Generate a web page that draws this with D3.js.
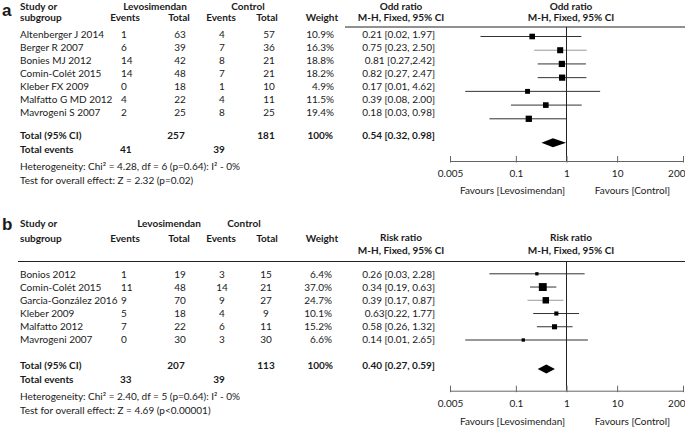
<!DOCTYPE html>
<html><head><meta charset="utf-8">
<script src="https://cdn.jsdelivr.net/npm/d3@7"></script>
<style>
body{margin:0;background:#fff}
svg text{font-family:Lato,"Open Sans",sans-serif;fill:#1a1a1a;font-size:10px}
</style>
</head><body><svg id="c" width="685" height="428"></svg>
<script>
// ---------- Panel a data ----------
const studiesA = ["Altenberger J 2014","Berger R 2007","Bonies MJ 2012","Comin-Colét 2015","Kleber FX 2009","Malfatto G MD 2012","Mavrogeni S 2007"];
const levoEventsA = [1,6,14,14,0,4,2];
const levoTotalA = [63,39,42,48,18,22,25];
const ctrlEventsA = [4,7,8,7,1,4,8];
const ctrlTotalA = [57,36,21,21,10,11,25];
const weightA = [10.9,16.3,18.8,18.2,4.9,11.5,19.4];
const estA = [0.21,0.75,0.81,0.82,0.17,0.39,0.18];
const lowA = [0.02,0.23,0.27,0.27,0.01,0.08,0.03];
const highA = [1.97,2.50,2.42,2.47,4.62,2.00,0.98];
const ciTextA = ["0.21 [0.02, 1.97]","0.75 [0.23, 2.50]","0.81 [0.27,2.42]","0.82 [0.27, 2.47]","0.17 [0.01, 4.62]","0.39 [0.08, 2.00]","0.18 [0.03, 0.98]"];
const totalsA = {levoTotal:"257", ctrlTotal:"181", weight:"100%", levoEvents:"41", ctrlEvents:"39"};
const overallA = [0.54, 0.32, 0.98];
const overallTextA = "0.54 [0.32, 0.98]";
const hetA = ["Heterogeneity: Chi² = 4.28, df = 6 (p=0.64): I² - 0%","Test for overall effect: Z = 2.32 (p=0.02)"];

// ---------- Panel b data ----------
const studiesB = ["Bonios 2012","Comin-Colét 2015","Garcia-González 2016","Kleber 2009","Malfatto 2012","Mavrogeni 2007"];
const levoEventsB = [1,11,9,5,7,0];
const levoTotalB = [19,48,70,18,22,30];
const ctrlEventsB = [3,14,9,4,6,3];
const ctrlTotalB = [15,21,27,9,11,30];
const weightB = [6.4,37.0,24.7,10.1,15.2,6.6];
const estB = [0.26,0.34,0.39,0.63,0.58,0.14];
const lowB = [0.03,0.19,0.17,0.22,0.26,0.01];
const highB = [2.28,0.63,0.87,1.77,1.32,2.65];
const ciTextB = ["0.26 [0.03, 2.28]","0.34 [0.19, 0.63]","0.39 [0.17, 0.87]","0.63[0.22, 1.77]","0.58 [0.26, 1.32]","0.14 [0.01, 2.65]"];
const totalsB = {levoTotal:"207", ctrlTotal:"113", weight:"100%", levoEvents:"33", ctrlEvents:"39"};
const overallB = [0.40, 0.27, 0.59];
const overallTextB = "0.40 [0.27, 0.59]";
const hetB = ["Heterogeneity: Chi² = 2.40, df = 5 (p=0.64): I² - 0%","Test for overall effect: Z = 4.69 (p<0.00001)"];

// ---------- Axis ----------
const tickValues = [0.005,0.1,1,10,200];
const tickLabels = ["0.005","0.1","1","10","200"];
const favourLabels = ["Favours [Levosimendan]","Favours [Control]"];

// style: rows whose CI line is drawn in grey
const greyRows = ["Berger R 2007","Garcia-González 2016"];

const svg = d3.select("#c");
const x = d3.scaleLog().domain([0.005,200]).range([450,683]);

function drawPanel(p){
  const g = svg.append("g");
  const n = p.studies.length;
  const t = (xx,y,s,opt={})=>{
    const el = g.append("text").attr("x",xx).attr("y",y).attr("dy","0.35em").text(s)
      .attr("text-anchor",opt.anchor||"start");
    if(opt.bold) el.attr("font-weight","bold");
    return el;
  };
  // panel label
  g.append("text").attr("x",2).attr("y",p.labelY).text(p.label)
    .style("font-family","'Liberation Sans',Arial,sans-serif").style("font-size","17px").attr("font-weight","bold");
  // headers
  t(20,p.hdr1,"Study or",{bold:true});
  t(20,p.hdr2,"subgroup",{bold:true});
  t(p.levoHdrX,p.hdr1,"Levosimendan",{bold:true,anchor:"middle"});
  t(p.ctrlHdrX,p.hdr1,"Control",{bold:true,anchor:"middle"});
  t(125,p.hdr2,"Events",{bold:true,anchor:"middle"});
  t(179,p.hdr2,"Total",{bold:true,anchor:"middle"});
  t(221,p.hdr2,"Events",{anchor:"middle"}).attr("font-weight","bold");
  t(267,p.hdr2,"Total",{bold:true,anchor:"middle"});
  t(322,p.hdr2,"Weight",{bold:true,anchor:"middle"});
  t(401,p.rhdr1,p.measure,{bold:true,anchor:"middle"});
  t(401,p.rhdr2,"M-H, Fixed, 95% CI",{bold:true,anchor:"middle"});
  t(571,p.rhdr1,p.measure,{bold:true,anchor:"middle"});
  t(571,p.rhdr2,"M-H, Fixed, 95% CI",{bold:true,anchor:"middle"});
  g.append("line").attr("x1",p.ruleX0).attr("x2",685).attr("y1",p.ruleY).attr("y2",p.ruleY)
    .attr("stroke","#222").attr("stroke-width",1);

  const yText = d3.scaleLinear().domain([0,n-1]).range(p.textRange);
  const yMark = d3.scaleLinear().domain([0,n-1]).range(p.markRange);
  const size = d3.scaleSqrt().domain([0,40]).range([p.sizeMin,p.sizeMax]);

  p.studies.forEach((s,i)=>{
    const y = yText(i);
    t(20,y,s);
    t(121,y,String(p.levoEvents[i]));
    t(180,y,String(p.levoTotal[i]),{anchor:"middle"});
    t(p.ctrlEvX,y,String(p.ctrlEvents[i]),{anchor:"middle"});
    t(p.ctrlTotX,y,String(p.ctrlTotal[i]),{anchor:"middle"});
    t(p.weightX,y,p.weight[i].toFixed(1)+"%",{anchor:"end"});
    t(435,y,p.ciText[i],{anchor:"end"});
  });
  // CI lines + squares
  p.studies.forEach((s,i)=>{
    const ym = yMark(i);
    g.append("line").attr("x1",x(p.low[i])).attr("x2",x(p.high[i])).attr("y1",ym).attr("y2",ym)
      .attr("stroke",greyRows.includes(s)?"#9a9a9a":"#333").attr("stroke-width",1);
  });
  p.studies.forEach((s,i)=>{
    const ym = yMark(i), sz = size(p.weight[i]);
    g.append("rect").attr("x",x(p.est[i])-sz/2).attr("y",ym-sz/2).attr("width",sz).attr("height",sz).attr("fill","#000");
  });
  // totals
  t(20,p.totalY,"Total (95% CI)",{bold:true});
  t(176,p.totalY,p.totals.levoTotal,{bold:true,anchor:"middle"});
  t(266,p.totalY,p.totals.ctrlTotal,{bold:true,anchor:"middle"});
  t(333,p.totalY,p.totals.weight,{bold:true,anchor:"end"});
  t(435,p.totalY,p.overallText,{bold:true,anchor:"end"});
  t(20,p.eventsY,"Total events",{bold:true});
  t(120,p.eventsY,p.totals.levoEvents,{bold:true});
  t(219,p.eventsY,p.totals.ctrlEvents,{bold:true,anchor:"middle"});
  t(20,p.het1,p.het[0]);
  t(20,p.het2,p.het[1]);

  // vertical line at 1
  g.append("line").attr("x1",x(1)).attr("x2",x(1)).attr("y1",p.ruleY).attr("y2",p.axisY)
    .attr("stroke","#222").attr("stroke-width",1);
  // diamond
  const [e,lo,hi] = p.overall, dy = p.diamondY, h = 4.5;
  g.append("polygon").attr("points",[[x(lo),dy],[x(e),dy-h],[x(hi),dy],[x(e),dy+h]].map(d=>d.join(",")).join(" "))
    .attr("fill","#000");
  // axis
  const ax = g.append("g").attr("transform",`translate(0,${p.axisY})`)
    .call(d3.axisBottom(x).tickValues(tickValues).tickFormat((d,i)=>tickLabels[i]).tickSizeInner(-5).tickSizeOuter(0).tickPadding(9));
  ax.select(".domain").attr("stroke","#666");
  ax.selectAll(".tick line").attr("stroke","#666").attr("y1",1.5);
  ax.selectAll(".tick text").style("font-family","Lato,sans-serif").style("font-size","10px").attr("fill","#1a1a1a");
  ax.selectAll(".tick text").filter((d,i)=>i===tickValues.length-1).attr("text-anchor","end").attr("x",2);
  t(x(1)-54,p.favY,favourLabels[0],{anchor:"middle"});
  t(x(1)+66,p.favY,favourLabels[1],{anchor:"middle"});
}

drawPanel({label:"a",labelY:16,hdr1:6,hdr2:17,rhdr1:6,rhdr2:17,ruleY:27,ruleX0:345,
  levoHdrX:155,ctrlHdrX:248,ctrlEvX:222,ctrlTotX:269,weightX:334,
  studies:studiesA,levoEvents:levoEventsA,levoTotal:levoTotalA,ctrlEvents:ctrlEventsA,ctrlTotal:ctrlTotalA,
  weight:weightA,est:estA,low:lowA,high:highA,ciText:ciTextA,totals:totalsA,overall:overallA,overallText:overallTextA,het:hetA,
  measure:"Odd ratio",textRange:[34.3,112],markRange:[36.5,118.8],sizeMin:3.5,sizeMax:7.5,
  totalY:135,eventsY:149,diamondY:142.7,axisY:161,het1:166,het2:180,favY:190});

drawPanel({label:"b",labelY:230,hdr1:223,hdr2:238,rhdr1:237,rhdr2:250,ruleY:261.5,ruleX0:18,
  levoHdrX:169,ctrlHdrX:244,ctrlEvX:222,ctrlTotX:266,weightX:332,
  studies:studiesB,levoEvents:levoEventsB,levoTotal:levoTotalB,ctrlEvents:ctrlEventsB,ctrlTotal:ctrlTotalB,
  weight:weightB,est:estB,low:lowB,high:highB,ciText:ciTextB,totals:totalsB,overall:overallB,overallText:overallTextB,het:hetB,
  measure:"Risk ratio",textRange:[274.7,339.2],markRange:[273.8,340],sizeMin:0,sizeMax:8.2,
  totalY:365,eventsY:379,diamondY:369,axisY:390.7,het1:396,het2:410,favY:421.5});
</script>
</body></html>
